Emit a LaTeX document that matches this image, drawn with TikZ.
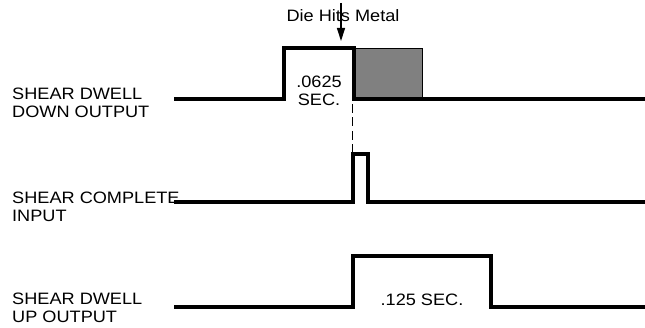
\documentclass[tikz,border=0pt]{standalone}
\usepackage{fontspec}
\setmainfont{Liberation Sans}[FakeStretch=1.1]
\usetikzlibrary{arrows.meta}
\begin{document}
\begin{tikzpicture}[x=1pt,y=-1pt,
  wave/.style={line width=4.4pt,line join=miter,line cap=butt},
  lbl/.style={inner sep=0pt,anchor=base west,align=left,font=\fontsize{16.5}{18}\selectfont},
  ctext/.style={inner sep=0pt,anchor=base,align=center,font=\fontsize{16.5}{18}\selectfont},
  dwell/.style={fill=black!50,draw=black,line width=1pt}]
\useasboundingbox (0,0) rectangle (645,328);
% labels
\node[lbl] (l1a) at (12,100) {SHEAR DWELL};
\node[lbl] (l1b) at (12,118) {DOWN OUTPUT};
\node[lbl] (l2a) at (12,204) {SHEAR COMPLETE};
\node[lbl] (l2b) at (12,222) {INPUT};
\node[lbl] (l3a) at (12,305) {SHEAR DWELL};
\node[lbl] (l3b) at (12,323) {UP OUTPUT};
% gray dwell box
\node[dwell,minimum width=68pt,minimum height=51pt,inner sep=0pt,anchor=north west] (gbox) at (354,48) {};
% waveform 1
\draw[wave] (174,99) -- (284,99) -- (284,48) -- (354,48) -- (354,99) -- (645,99);
% waveform 2
\draw[wave] (174,202) -- (353,202) -- (353,154) -- (368,154) -- (368,202) -- (645,202);
% waveform 3
\draw[wave] (174,307) -- (353,307) -- (353,256) -- (491,256) -- (491,307) -- (645,307);
% dashed line
\coordinate (d1) at (352.5,104);
\coordinate (d2) at (352.5,152);
\draw[line width=1.6pt,dash pattern=on 9pt off 4.5pt] (d1) -- (d2);
% texts
\node[ctext] (t1) at (319,88) {.0625};
\node[ctext] (t2) at (319,106) {SEC.};
\node[ctext] (t3) at (422,306) {.125 SEC.};
\node[ctext] (die) at (343,22) {Die Hits Metal};
% arrow
\coordinate (a0) at (341,3);
\coordinate (a1) at (341,41);
\draw[line width=1.3pt,-{Triangle[length=13pt,width=8pt]}] (a0) -- (a1);
\end{tikzpicture}
\end{document}
